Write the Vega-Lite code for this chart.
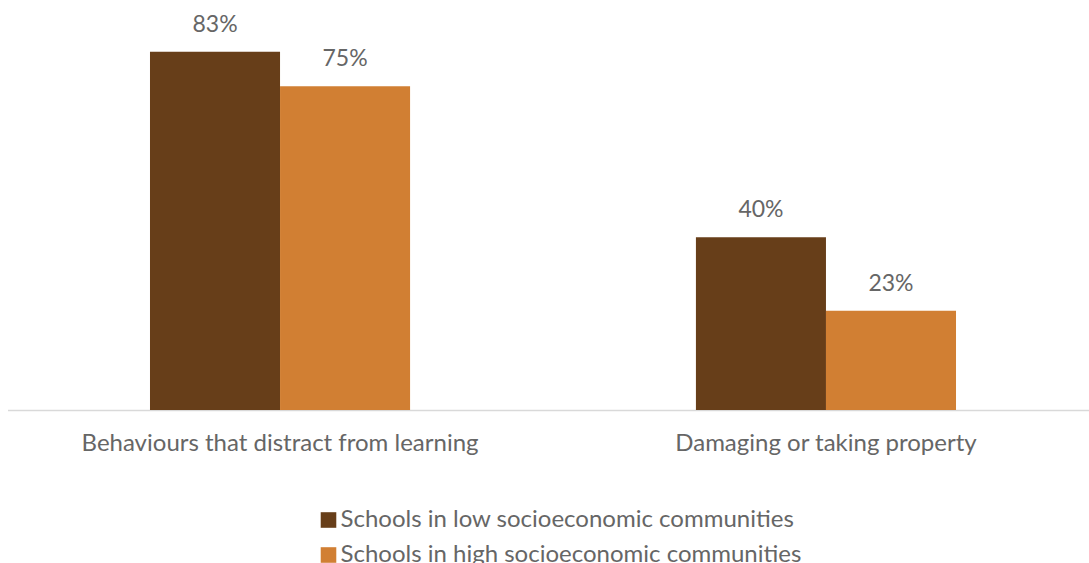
{
  "$schema": "https://vega.github.io/schema/vega-lite/v6.json",
  "width": 1091,
  "height": 410,
  "autosize": {"type": "none"},
  "padding": {"left": 7.5, "top": 0, "right": 0, "bottom": 153},
  "background": "white",
  "config": {"view": {"stroke": null}},
  "data": {
    "values": [
      {"category": "Behaviours that distract from learning", "group": "Schools in low socioeconomic communities", "value": 0.83},
      {"category": "Behaviours that distract from learning", "group": "Schools in high socioeconomic communities", "value": 0.75},
      {"category": "Damaging or taking property", "group": "Schools in low socioeconomic communities", "value": 0.40},
      {"category": "Damaging or taking property", "group": "Schools in high socioeconomic communities", "value": 0.23}
    ]
  },
  "encoding": {
    "x": {
      "field": "category", "type": "nominal", "sort": null,
      "scale": {"paddingInner": 0.5236, "paddingOuter": 0.261},
      "axis": {"title": null, "labelAngle": 0, "domainColor": "#d9d9d9", "domainWidth": 1.5, "ticks": false,
        "labelFont": "Lato", "labelFontSize": 24, "labelColor": "#666666", "labelPadding": 21, "labelLimit": 800}
    },
    "xOffset": {"field": "group", "type": "nominal", "sort": null, "scale": {"paddingInner": 0, "paddingOuter": 0}},
    "y": {"field": "value", "type": "quantitative", "scale": {"domain": [0, 0.95]}, "axis": null}
  },
  "layer": [
    {
      "mark": {"type": "bar"},
      "encoding": {
        "color": {
          "field": "group", "type": "nominal", "sort": null,
          "scale": {"range": ["#673e19", "#d17f33"]},
          "legend": {"title": null, "orient": "none", "legendX": 309, "legendY": 508, "direction": "vertical",
            "padding": 0, "symbolType": "square", "symbolSize": 243, "symbolStrokeWidth": 0, "symbolOpacity": 1,
            "labelFont": "Lato", "labelFontSize": 24, "labelColor": "#666666", "labelOffset": 0, "rowPadding": 11,
            "labelLimit": 800}
        }
      }
    },
    {
      "mark": {"type": "text", "dy": -20, "baseline": "alphabetic", "align": "center", "font": "Lato", "fontSize": 23, "color": "#666666"},
      "encoding": {"text": {"field": "value", "type": "quantitative", "format": ".0%"}}
    }
  ]
}
